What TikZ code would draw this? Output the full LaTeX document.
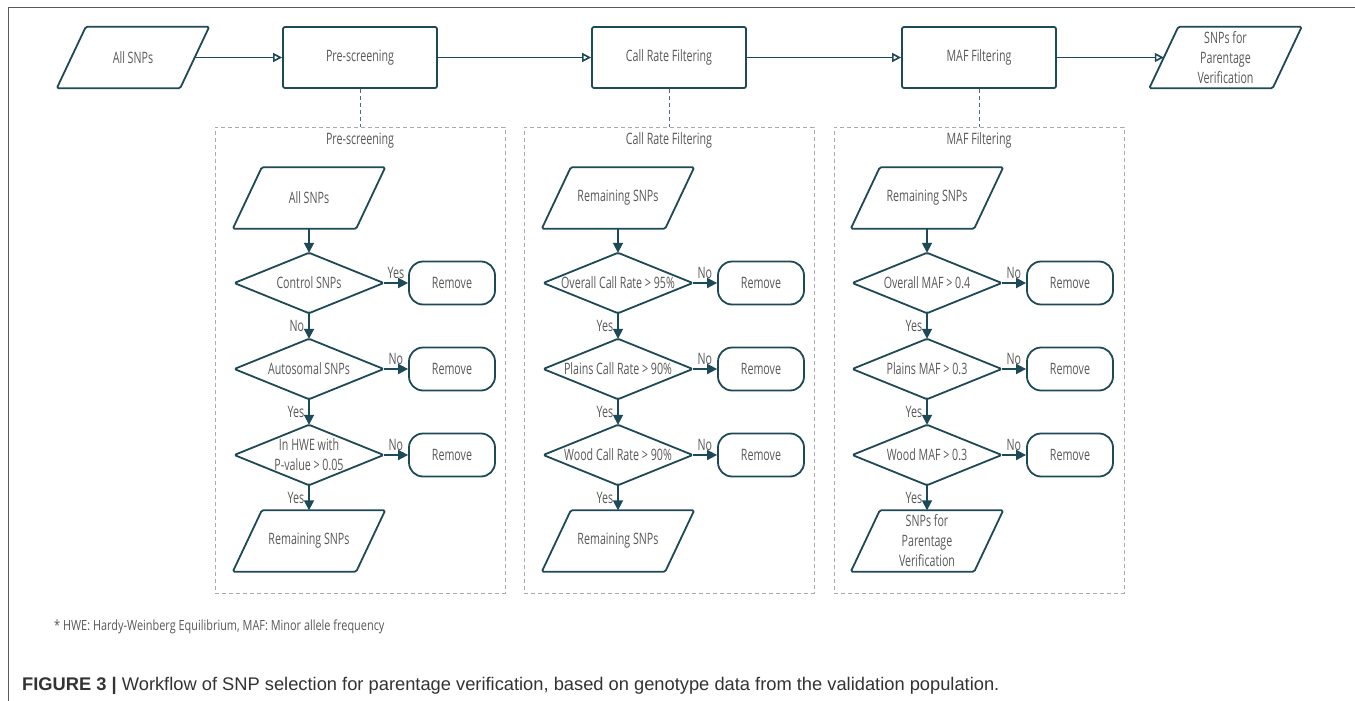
\documentclass[tikz,border=0pt]{standalone}
\usepackage{fontspec}
\setmainfont{Open Sans}[FakeStretch=0.68]
\newfontfamily\fnfont{Open Sans}[FakeStretch=0.78]
\newfontfamily\capfont{Liberation Sans}
\usetikzlibrary{arrows.meta,calc}
\definecolor{teal1}{HTML}{1E4A57}
\definecolor{txt}{HTML}{585858}
\definecolor{pgray}{HTML}{AAAAAA}
\newcommand\dfont{\fontsize{15.7}{20}\selectfont}
\newcommand\parashape[1]{\draw[shp] ([xshift=14.5pt]#1.north west) -- ([xshift=14.5pt]#1.north east) -- ([xshift=-14.5pt]#1.south east) -- ([xshift=-14.5pt]#1.south west) -- cycle;}
\newcommand\diashape[1]{\draw[shp] (#1.north) -- (#1.east) -- (#1.south) -- (#1.west) -- cycle;}
\tikzset{
  shp/.style={draw=teal1, line width=1.8pt, line join=round, rounded corners=1.5pt},
  paran/.style={minimum width=123pt, minimum height=61pt, inner sep=0pt, align=center, text=txt, font=\dfont},
  dian/.style={minimum width=149pt, minimum height=60pt, inner sep=0pt, align=center, text=txt, font=\dfont},
  boxn/.style={draw=teal1, line width=1.8pt, rounded corners=2pt, minimum width=154pt, minimum height=61pt, inner sep=0pt, text=txt, font=\dfont},
  remn/.style={draw=teal1, line width=1.8pt, rounded corners=14pt, minimum width=86pt, minimum height=43pt, inner sep=0pt, text=txt, font=\dfont},
  arr/.style={draw=teal1, line width=1.8pt, -{Triangle[length=10pt,width=10pt]}},
  oarr/.style={draw=teal1, line width=1.8pt, -{Triangle[open,length=9pt,width=9pt,fill=white,line width=1.6pt]}},
  panel/.style={draw=pgray, line width=0.9pt, dash pattern=on 4pt off 3pt, minimum width=290pt, minimum height=466pt, inner sep=0pt},
  dcon/.style={draw=teal1!80, line width=0.9pt, dash pattern=on 4pt off 3pt},
  lab/.style={text=txt, font=\dfont, inner sep=2pt},
}
\begin{document}
\begin{tikzpicture}[x=1pt,y=-1pt]
\useasboundingbox (0,0) rectangle (1355,701);
\fill[white] (0,0) rectangle (1355,701);
\draw[gray!70!black, line width=1pt] (8,701) -- (8,8) -- (1355,8);

% top row
\node[paran] (top0) at (133,57.5) {All SNPs}; \parashape{top0}
\node[boxn] (top1) at (360,57.5) {Pre-screening};
\node[boxn] (top2) at (669,57.5) {Call Rate Filtering};
\node[boxn] (top3) at (979,57.5) {MAF Filtering};
\node[paran] (top4) at (1225.5,57.5) {SNPs for\\Parentage\\Verification}; \parashape{top4}
\draw[oarr] (top0.east) -- (top1.west);
\draw[oarr] (top1.east) -- (top2.west);
\draw[oarr] (top2.east) -- (top3.west);
\draw[oarr] (top3.east) -- (top4.west);

% panels
\node[panel] (P1) at (360,360) {};
\node[panel] (P2) at (669,360) {};
\node[panel] (P3) at (979,360) {};
\node[lab, anchor=north] (T1) at ([yshift=-4pt]P1.north) {Pre-screening};
\node[lab, anchor=north] (T2) at ([yshift=-4pt]P2.north) {Call Rate Filtering};
\node[lab, anchor=north] (T3) at ([yshift=-4pt]P3.north) {MAF Filtering};
\draw[dcon] (top1.south) -- (P1.north);
\draw[dcon] (top2.south) -- (P2.north);
\draw[dcon] (top3.south) -- (P3.north);

% panel 1
\node[paran] (p1a) at (309,198) {All SNPs}; \parashape{p1a}
\node[dian] (d1a) at (309,283) {Control SNPs}; \diashape{d1a}
\node[dian] (d1b) at (309,369) {Autosomal SNPs}; \diashape{d1b}
\node[dian] (d1c) at (309,455) {In HWE with\\P-value > 0.05}; \diashape{d1c}
\node[paran] (p1b) at (309,541) {Remaining SNPs}; \parashape{p1b}
\node[remn] (r1a) at (452,283) {Remove};
\node[remn] (r1b) at (452,369) {Remove};
\node[remn] (r1c) at (452,455) {Remove};
\draw[arr] (p1a.south) -- (d1a.north);
\draw[arr] (d1a.south) -- node[lab, left=2pt] {No} (d1b.north);
\draw[arr] (d1b.south) -- node[lab, left=2pt] {Yes} (d1c.north);
\draw[arr] (d1c.south) -- node[lab, left=2pt] {Yes} (p1b.north);
\draw[arr] (d1a.east) -- node[lab, above=1pt] {Yes} (r1a.west);
\draw[arr] (d1b.east) -- node[lab, above=1pt] {No} (r1b.west);
\draw[arr] (d1c.east) -- node[lab, above=1pt] {No} (r1c.west);

% panel 2
\node[paran] (p2a) at (618,198) {Remaining SNPs}; \parashape{p2a}
\node[dian] (d2a) at (618,283) {Overall Call Rate > 95\%}; \diashape{d2a}
\node[dian] (d2b) at (618,369) {Plains Call Rate > 90\%}; \diashape{d2b}
\node[dian] (d2c) at (618,455) {Wood Call Rate > 90\%}; \diashape{d2c}
\node[paran] (p2b) at (618,541) {Remaining SNPs}; \parashape{p2b}
\node[remn] (r2a) at (761,283) {Remove};
\node[remn] (r2b) at (761,369) {Remove};
\node[remn] (r2c) at (761,455) {Remove};
\draw[arr] (p2a.south) -- (d2a.north);
\draw[arr] (d2a.south) -- node[lab, left=2pt] {Yes} (d2b.north);
\draw[arr] (d2b.south) -- node[lab, left=2pt] {Yes} (d2c.north);
\draw[arr] (d2c.south) -- node[lab, left=2pt] {Yes} (p2b.north);
\draw[arr] (d2a.east) -- node[lab, above=1pt] {No} (r2a.west);
\draw[arr] (d2b.east) -- node[lab, above=1pt] {No} (r2b.west);
\draw[arr] (d2c.east) -- node[lab, above=1pt] {No} (r2c.west);

% panel 3
\node[paran] (p3a) at (927,198) {Remaining SNPs}; \parashape{p3a}
\node[dian] (d3a) at (927,283) {Overall MAF > 0.4}; \diashape{d3a}
\node[dian] (d3b) at (927,369) {Plains MAF > 0.3}; \diashape{d3b}
\node[dian] (d3c) at (927,455) {Wood MAF > 0.3}; \diashape{d3c}
\node[paran] (p3b) at (927,541) {SNPs for\\Parentage\\Verification}; \parashape{p3b}
\node[remn] (r3a) at (1070,283) {Remove};
\node[remn] (r3b) at (1070,369) {Remove};
\node[remn] (r3c) at (1070,455) {Remove};
\draw[arr] (p3a.south) -- (d3a.north);
\draw[arr] (d3a.south) -- node[lab, left=2pt] {Yes} (d3b.north);
\draw[arr] (d3b.south) -- node[lab, left=2pt] {Yes} (d3c.north);
\draw[arr] (d3c.south) -- node[lab, left=2pt] {Yes} (p3b.north);
\draw[arr] (d3a.east) -- node[lab, above=1pt] {No} (r3a.west);
\draw[arr] (d3b.east) -- node[lab, above=1pt] {No} (r3b.west);
\draw[arr] (d3c.east) -- node[lab, above=1pt] {No} (r3c.west);

% footnote and caption
\node[anchor=west, text=txt, font=\fnfont\fontsize{14}{16}\selectfont, inner sep=0pt] (fn) at (54,627) {* HWE: Hardy-Weinberg Equilibrium, MAF: Minor allele frequency};
\node[anchor=base west, inner sep=0pt, text=black!80] (cap) at (22,690) {\capfont\fontsize{18.3}{21}\selectfont\textbf{FIGURE 3 |} Workflow of SNP selection for parentage verification, based on genotype data from the validation population.};
\end{tikzpicture}
\end{document}
